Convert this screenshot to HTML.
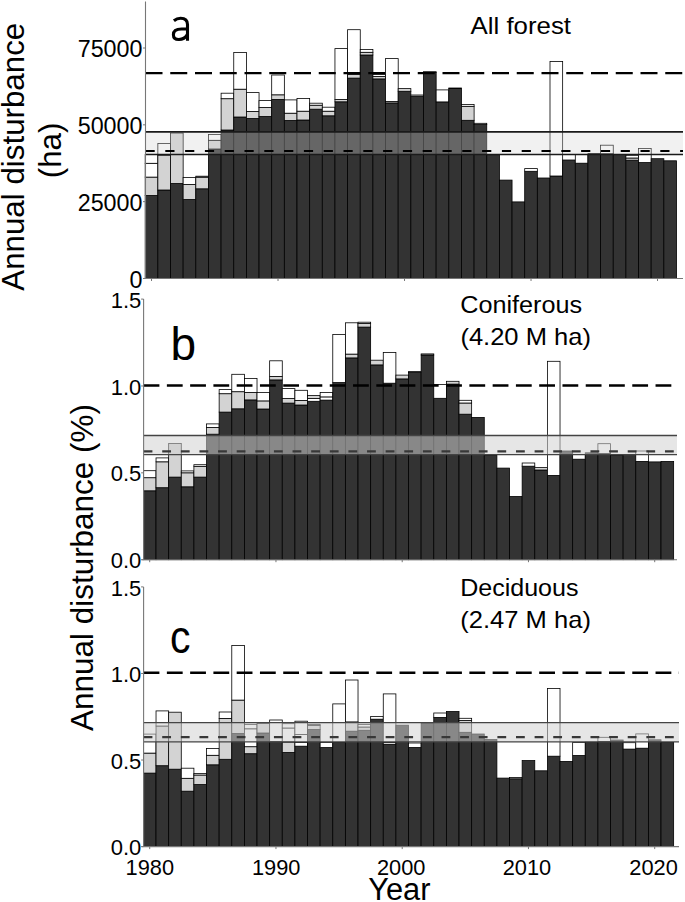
<!DOCTYPE html><html><head><meta charset="utf-8"><style>html,body{margin:0;padding:0;background:#fff;}svg{display:block;}text{font-family:"Liberation Sans",sans-serif;fill:#000;}</style></head><body>
<div id="w"><svg width="685" height="902" viewBox="0 0 685 902">
<rect x="0" y="0" width="685" height="902" fill="#fff"/>
<rect x="145.2" y="195.5" width="12.65" height="83" fill="#333333" stroke="#000" stroke-width="0.8"/>
<rect x="145.2" y="177.1" width="12.65" height="18.4" fill="#d3d3d3" stroke="#000" stroke-width="0.8"/>
<rect x="145.2" y="163.3" width="12.65" height="13.8" fill="#ffffff" stroke="#000" stroke-width="0.8"/>
<rect x="145.2" y="154.5" width="12.65" height="8.8" fill="#ffffff" stroke="#000" stroke-width="0.8"/>
<rect x="157.85" y="190" width="12.65" height="88.5" fill="#333333" stroke="#000" stroke-width="0.8"/>
<rect x="157.85" y="155" width="12.65" height="35" fill="#d3d3d3" stroke="#000" stroke-width="0.8"/>
<rect x="157.85" y="143.4" width="12.65" height="11.6" fill="#ffffff" stroke="#000" stroke-width="0.8"/>
<rect x="170.5" y="183.5" width="12.65" height="95" fill="#333333" stroke="#000" stroke-width="0.8"/>
<rect x="170.5" y="133" width="12.65" height="50.5" fill="#d3d3d3" stroke="#000" stroke-width="0.8"/>
<rect x="183.15" y="199.5" width="12.65" height="79" fill="#333333" stroke="#000" stroke-width="0.8"/>
<rect x="183.15" y="184.5" width="12.65" height="15" fill="#d3d3d3" stroke="#000" stroke-width="0.8"/>
<rect x="183.15" y="177.4" width="12.65" height="7.1" fill="#ffffff" stroke="#000" stroke-width="0.8"/>
<rect x="195.8" y="188.8" width="12.65" height="89.7" fill="#333333" stroke="#000" stroke-width="0.8"/>
<rect x="195.8" y="177.2" width="12.65" height="11.6" fill="#d3d3d3" stroke="#000" stroke-width="0.8"/>
<rect x="195.8" y="176.2" width="12.65" height="1" fill="#ffffff" stroke="#000" stroke-width="0.8"/>
<rect x="208.45" y="149" width="12.65" height="129.5" fill="#333333" stroke="#000" stroke-width="0.8"/>
<rect x="208.45" y="140.3" width="12.65" height="8.7" fill="#d3d3d3" stroke="#000" stroke-width="0.8"/>
<rect x="208.45" y="134.5" width="12.65" height="5.8" fill="#ffffff" stroke="#000" stroke-width="0.8"/>
<rect x="221.1" y="130" width="12.65" height="148.5" fill="#333333" stroke="#000" stroke-width="0.8"/>
<rect x="221.1" y="98.7" width="12.65" height="31.3" fill="#d3d3d3" stroke="#000" stroke-width="0.8"/>
<rect x="221.1" y="93.2" width="12.65" height="5.5" fill="#ffffff" stroke="#000" stroke-width="0.8"/>
<rect x="233.75" y="117" width="12.65" height="161.5" fill="#333333" stroke="#000" stroke-width="0.8"/>
<rect x="233.75" y="89.2" width="12.65" height="27.8" fill="#d3d3d3" stroke="#000" stroke-width="0.8"/>
<rect x="233.75" y="52.4" width="12.65" height="36.8" fill="#ffffff" stroke="#000" stroke-width="0.8"/>
<rect x="246.4" y="118.5" width="12.65" height="160" fill="#333333" stroke="#000" stroke-width="0.8"/>
<rect x="246.4" y="111.5" width="12.65" height="7" fill="#d3d3d3" stroke="#000" stroke-width="0.8"/>
<rect x="246.4" y="92.6" width="12.65" height="18.9" fill="#ffffff" stroke="#000" stroke-width="0.8"/>
<rect x="259.05" y="116.5" width="12.65" height="162" fill="#333333" stroke="#000" stroke-width="0.8"/>
<rect x="259.05" y="107.5" width="12.65" height="9" fill="#d3d3d3" stroke="#000" stroke-width="0.8"/>
<rect x="259.05" y="100.6" width="12.65" height="6.9" fill="#ffffff" stroke="#000" stroke-width="0.8"/>
<rect x="271.7" y="99.4" width="12.65" height="179.1" fill="#333333" stroke="#000" stroke-width="0.8"/>
<rect x="271.7" y="94.8" width="12.65" height="4.6" fill="#d3d3d3" stroke="#000" stroke-width="0.8"/>
<rect x="271.7" y="75" width="12.65" height="19.8" fill="#ffffff" stroke="#000" stroke-width="0.8"/>
<rect x="284.35" y="120.5" width="12.65" height="158" fill="#333333" stroke="#000" stroke-width="0.8"/>
<rect x="284.35" y="113.2" width="12.65" height="7.3" fill="#d3d3d3" stroke="#000" stroke-width="0.8"/>
<rect x="284.35" y="99.9" width="12.65" height="13.3" fill="#ffffff" stroke="#000" stroke-width="0.8"/>
<rect x="297" y="120" width="12.65" height="158.5" fill="#333333" stroke="#000" stroke-width="0.8"/>
<rect x="297" y="111.2" width="12.65" height="8.8" fill="#d3d3d3" stroke="#000" stroke-width="0.8"/>
<rect x="297" y="98.5" width="12.65" height="12.7" fill="#ffffff" stroke="#000" stroke-width="0.8"/>
<rect x="309.65" y="109.2" width="12.65" height="169.3" fill="#333333" stroke="#000" stroke-width="0.8"/>
<rect x="309.65" y="105.2" width="12.65" height="4" fill="#d3d3d3" stroke="#000" stroke-width="0.8"/>
<rect x="309.65" y="103.2" width="12.65" height="2" fill="#ffffff" stroke="#000" stroke-width="0.8"/>
<rect x="322.3" y="115.8" width="12.65" height="162.7" fill="#333333" stroke="#000" stroke-width="0.8"/>
<rect x="322.3" y="111.2" width="12.65" height="4.6" fill="#d3d3d3" stroke="#000" stroke-width="0.8"/>
<rect x="322.3" y="107.2" width="12.65" height="4" fill="#ffffff" stroke="#000" stroke-width="0.8"/>
<rect x="334.95" y="101.8" width="12.65" height="176.7" fill="#333333" stroke="#000" stroke-width="0.8"/>
<rect x="334.95" y="99.5" width="12.65" height="2.3" fill="#d3d3d3" stroke="#000" stroke-width="0.8"/>
<rect x="334.95" y="48.6" width="12.65" height="50.9" fill="#ffffff" stroke="#000" stroke-width="0.8"/>
<rect x="347.6" y="78.1" width="12.65" height="200.4" fill="#333333" stroke="#000" stroke-width="0.8"/>
<rect x="347.6" y="74.5" width="12.65" height="3.6" fill="#d3d3d3" stroke="#000" stroke-width="0.8"/>
<rect x="347.6" y="29.7" width="12.65" height="44.8" fill="#ffffff" stroke="#000" stroke-width="0.8"/>
<rect x="360.25" y="55" width="12.65" height="223.5" fill="#333333" stroke="#000" stroke-width="0.8"/>
<rect x="360.25" y="52.3" width="12.65" height="2.7" fill="#d3d3d3" stroke="#000" stroke-width="0.8"/>
<rect x="360.25" y="49.5" width="12.65" height="2.8" fill="#ffffff" stroke="#000" stroke-width="0.8"/>
<rect x="372.9" y="78.9" width="12.65" height="199.6" fill="#333333" stroke="#000" stroke-width="0.8"/>
<rect x="372.9" y="76.5" width="12.65" height="2.4" fill="#d3d3d3" stroke="#000" stroke-width="0.8"/>
<rect x="372.9" y="74.5" width="12.65" height="2" fill="#ffffff" stroke="#000" stroke-width="0.8"/>
<rect x="385.55" y="102.9" width="12.65" height="175.6" fill="#333333" stroke="#000" stroke-width="0.8"/>
<rect x="385.55" y="101.6" width="12.65" height="1.3" fill="#d3d3d3" stroke="#000" stroke-width="0.8"/>
<rect x="385.55" y="58.6" width="12.65" height="43" fill="#ffffff" stroke="#000" stroke-width="0.8"/>
<rect x="398.2" y="91.3" width="12.65" height="187.2" fill="#333333" stroke="#000" stroke-width="0.8"/>
<rect x="398.2" y="88.6" width="12.65" height="2.7" fill="#d3d3d3" stroke="#000" stroke-width="0.8"/>
<rect x="410.85" y="96.3" width="12.65" height="182.2" fill="#333333" stroke="#000" stroke-width="0.8"/>
<rect x="410.85" y="95" width="12.65" height="1.3" fill="#d3d3d3" stroke="#000" stroke-width="0.8"/>
<rect x="423.5" y="72.6" width="12.65" height="205.9" fill="#333333" stroke="#000" stroke-width="0.8"/>
<rect x="423.5" y="71.7" width="12.65" height="0.9" fill="#d3d3d3" stroke="#000" stroke-width="0.8"/>
<rect x="436.15" y="101.9" width="12.65" height="176.6" fill="#333333" stroke="#000" stroke-width="0.8"/>
<rect x="436.15" y="89.9" width="12.65" height="12" fill="#ffffff" stroke="#000" stroke-width="0.8"/>
<rect x="448.8" y="88.6" width="12.65" height="189.9" fill="#333333" stroke="#000" stroke-width="0.8"/>
<rect x="448.8" y="88" width="12.65" height="0.6" fill="#d3d3d3" stroke="#000" stroke-width="0.8"/>
<rect x="461.45" y="120.3" width="12.65" height="158.2" fill="#333333" stroke="#000" stroke-width="0.8"/>
<rect x="461.45" y="106.3" width="12.65" height="14" fill="#d3d3d3" stroke="#000" stroke-width="0.8"/>
<rect x="461.45" y="104.5" width="12.65" height="1.8" fill="#ffffff" stroke="#000" stroke-width="0.8"/>
<rect x="474.1" y="124.6" width="12.65" height="153.9" fill="#333333" stroke="#000" stroke-width="0.8"/>
<rect x="474.1" y="123.3" width="12.65" height="1.3" fill="#d3d3d3" stroke="#000" stroke-width="0.8"/>
<rect x="486.75" y="154.7" width="12.65" height="123.8" fill="#333333" stroke="#000" stroke-width="0.8"/>
<rect x="499.4" y="180.1" width="12.65" height="98.4" fill="#333333" stroke="#000" stroke-width="0.8"/>
<rect x="512.05" y="201.9" width="12.65" height="76.6" fill="#333333" stroke="#000" stroke-width="0.8"/>
<rect x="524.7" y="171.3" width="12.65" height="107.2" fill="#333333" stroke="#000" stroke-width="0.8"/>
<rect x="524.7" y="168.6" width="12.65" height="2.7" fill="#ffffff" stroke="#000" stroke-width="0.8"/>
<rect x="537.35" y="178" width="12.65" height="100.5" fill="#333333" stroke="#000" stroke-width="0.8"/>
<rect x="550" y="176" width="12.65" height="102.5" fill="#333333" stroke="#000" stroke-width="0.8"/>
<rect x="550" y="61.5" width="12.65" height="114.5" fill="#ffffff" stroke="#000" stroke-width="0.8"/>
<rect x="562.65" y="160" width="12.65" height="118.5" fill="#333333" stroke="#000" stroke-width="0.8"/>
<rect x="575.3" y="163.2" width="12.65" height="115.3" fill="#333333" stroke="#000" stroke-width="0.8"/>
<rect x="575.3" y="154.5" width="12.65" height="8.7" fill="#ffffff" stroke="#000" stroke-width="0.8"/>
<rect x="587.95" y="153.6" width="12.65" height="124.9" fill="#333333" stroke="#000" stroke-width="0.8"/>
<rect x="600.6" y="153.8" width="12.65" height="124.7" fill="#333333" stroke="#000" stroke-width="0.8"/>
<rect x="600.6" y="145.2" width="12.65" height="8.6" fill="#ffffff" stroke="#000" stroke-width="0.8"/>
<rect x="613.25" y="154.5" width="12.65" height="124" fill="#333333" stroke="#000" stroke-width="0.8"/>
<rect x="625.9" y="160.2" width="12.65" height="118.3" fill="#333333" stroke="#000" stroke-width="0.8"/>
<rect x="625.9" y="158" width="12.65" height="2.2" fill="#d3d3d3" stroke="#000" stroke-width="0.8"/>
<rect x="625.9" y="155.3" width="12.65" height="2.7" fill="#ffffff" stroke="#000" stroke-width="0.8"/>
<rect x="638.55" y="162.6" width="12.65" height="115.9" fill="#333333" stroke="#000" stroke-width="0.8"/>
<rect x="638.55" y="148.5" width="12.65" height="14.1" fill="#ffffff" stroke="#000" stroke-width="0.8"/>
<rect x="651.2" y="158.7" width="12.65" height="119.8" fill="#333333" stroke="#000" stroke-width="0.8"/>
<rect x="663.85" y="160.8" width="12.65" height="117.7" fill="#333333" stroke="#000" stroke-width="0.8"/>
<rect x="145.5" y="131.9" width="537.5" height="22.6" fill="rgba(211,211,211,0.32)"/>
<line x1="145.5" y1="131.9" x2="683" y2="131.9" stroke="#1a1a1a" stroke-width="1.7"/>
<line x1="145.5" y1="154.5" x2="683" y2="154.5" stroke="#1a1a1a" stroke-width="1.7"/>
<line x1="145.5" y1="151" x2="683" y2="151" stroke="#000" stroke-width="2.2" stroke-dasharray="9.2 10.6"/>
<line x1="145.5" y1="73.1" x2="683" y2="73.1" stroke="#000" stroke-width="2.4" stroke-dasharray="17 7.75"/>
<line x1="145.5" y1="1.5" x2="145.5" y2="278.5" stroke="#777" stroke-width="1.1"/>
<line x1="143.5" y1="278.5" x2="683" y2="278.5" stroke="#777" stroke-width="1.1"/>
<line x1="151.52" y1="278.5" x2="151.52" y2="281" stroke="#777" stroke-width="1"/>
<line x1="278.02" y1="278.5" x2="278.02" y2="281" stroke="#777" stroke-width="1"/>
<line x1="404.52" y1="278.5" x2="404.52" y2="281" stroke="#777" stroke-width="1"/>
<line x1="531.02" y1="278.5" x2="531.02" y2="281" stroke="#777" stroke-width="1"/>
<line x1="657.53" y1="278.5" x2="657.53" y2="281" stroke="#777" stroke-width="1"/>
<rect x="143.4" y="490.8" width="12.62" height="68.9" fill="#333333" stroke="#000" stroke-width="0.8"/>
<rect x="143.4" y="477.7" width="12.62" height="13.1" fill="#d3d3d3" stroke="#000" stroke-width="0.8"/>
<rect x="143.4" y="470.7" width="12.62" height="7" fill="#ffffff" stroke="#000" stroke-width="0.8"/>
<rect x="156.03" y="487.7" width="12.62" height="72" fill="#333333" stroke="#000" stroke-width="0.8"/>
<rect x="156.03" y="461.8" width="12.62" height="25.9" fill="#d3d3d3" stroke="#000" stroke-width="0.8"/>
<rect x="156.03" y="457.9" width="12.62" height="3.9" fill="#ffffff" stroke="#000" stroke-width="0.8"/>
<rect x="168.65" y="477.1" width="12.62" height="82.6" fill="#333333" stroke="#000" stroke-width="0.8"/>
<rect x="168.65" y="443.4" width="12.62" height="33.7" fill="#d3d3d3" stroke="#000" stroke-width="0.8"/>
<rect x="181.28" y="486.8" width="12.62" height="72.9" fill="#333333" stroke="#000" stroke-width="0.8"/>
<rect x="181.28" y="472.8" width="12.62" height="14" fill="#d3d3d3" stroke="#000" stroke-width="0.8"/>
<rect x="181.28" y="470.9" width="12.62" height="1.9" fill="#ffffff" stroke="#000" stroke-width="0.8"/>
<rect x="193.9" y="477.1" width="12.62" height="82.6" fill="#333333" stroke="#000" stroke-width="0.8"/>
<rect x="193.9" y="466.3" width="12.62" height="10.8" fill="#d3d3d3" stroke="#000" stroke-width="0.8"/>
<rect x="193.9" y="464.7" width="12.62" height="1.6" fill="#ffffff" stroke="#000" stroke-width="0.8"/>
<rect x="206.53" y="434.2" width="12.62" height="125.5" fill="#333333" stroke="#000" stroke-width="0.8"/>
<rect x="206.53" y="427.4" width="12.62" height="6.8" fill="#d3d3d3" stroke="#000" stroke-width="0.8"/>
<rect x="206.53" y="423.9" width="12.62" height="3.5" fill="#ffffff" stroke="#000" stroke-width="0.8"/>
<rect x="219.15" y="412.1" width="12.62" height="147.6" fill="#333333" stroke="#000" stroke-width="0.8"/>
<rect x="219.15" y="393.7" width="12.62" height="18.4" fill="#d3d3d3" stroke="#000" stroke-width="0.8"/>
<rect x="219.15" y="389.6" width="12.62" height="4.1" fill="#ffffff" stroke="#000" stroke-width="0.8"/>
<rect x="231.78" y="408.8" width="12.62" height="150.9" fill="#333333" stroke="#000" stroke-width="0.8"/>
<rect x="231.78" y="391.7" width="12.62" height="17.1" fill="#d3d3d3" stroke="#000" stroke-width="0.8"/>
<rect x="231.78" y="374.3" width="12.62" height="17.4" fill="#ffffff" stroke="#000" stroke-width="0.8"/>
<rect x="244.4" y="399.9" width="12.62" height="159.8" fill="#333333" stroke="#000" stroke-width="0.8"/>
<rect x="244.4" y="392.5" width="12.62" height="7.4" fill="#d3d3d3" stroke="#000" stroke-width="0.8"/>
<rect x="244.4" y="378.4" width="12.62" height="14.1" fill="#ffffff" stroke="#000" stroke-width="0.8"/>
<rect x="257.02" y="409" width="12.62" height="150.7" fill="#333333" stroke="#000" stroke-width="0.8"/>
<rect x="257.02" y="400.9" width="12.62" height="8.1" fill="#d3d3d3" stroke="#000" stroke-width="0.8"/>
<rect x="257.02" y="392.5" width="12.62" height="8.4" fill="#ffffff" stroke="#000" stroke-width="0.8"/>
<rect x="269.65" y="379.9" width="12.62" height="179.8" fill="#333333" stroke="#000" stroke-width="0.8"/>
<rect x="269.65" y="376.4" width="12.62" height="3.5" fill="#d3d3d3" stroke="#000" stroke-width="0.8"/>
<rect x="269.65" y="360.8" width="12.62" height="15.6" fill="#ffffff" stroke="#000" stroke-width="0.8"/>
<rect x="282.27" y="403.1" width="12.62" height="156.6" fill="#333333" stroke="#000" stroke-width="0.8"/>
<rect x="282.27" y="398.6" width="12.62" height="4.5" fill="#d3d3d3" stroke="#000" stroke-width="0.8"/>
<rect x="282.27" y="388.6" width="12.62" height="10" fill="#ffffff" stroke="#000" stroke-width="0.8"/>
<rect x="294.9" y="405" width="12.62" height="154.7" fill="#333333" stroke="#000" stroke-width="0.8"/>
<rect x="294.9" y="400.4" width="12.62" height="4.6" fill="#d3d3d3" stroke="#000" stroke-width="0.8"/>
<rect x="294.9" y="390.3" width="12.62" height="10.1" fill="#ffffff" stroke="#000" stroke-width="0.8"/>
<rect x="307.52" y="401.3" width="12.62" height="158.4" fill="#333333" stroke="#000" stroke-width="0.8"/>
<rect x="307.52" y="398.5" width="12.62" height="2.8" fill="#ffffff" stroke="#000" stroke-width="0.8"/>
<rect x="307.52" y="395.5" width="12.62" height="3" fill="#d3d3d3" stroke="#000" stroke-width="0.8"/>
<rect x="320.15" y="400.1" width="12.62" height="159.6" fill="#333333" stroke="#000" stroke-width="0.8"/>
<rect x="320.15" y="396.9" width="12.62" height="3.2" fill="#ffffff" stroke="#000" stroke-width="0.8"/>
<rect x="320.15" y="392.4" width="12.62" height="4.5" fill="#ffffff" stroke="#000" stroke-width="0.8"/>
<rect x="332.77" y="382.6" width="12.62" height="177.1" fill="#333333" stroke="#000" stroke-width="0.8"/>
<rect x="332.77" y="334.4" width="12.62" height="48.2" fill="#ffffff" stroke="#000" stroke-width="0.8"/>
<rect x="345.4" y="357.9" width="12.62" height="201.8" fill="#333333" stroke="#000" stroke-width="0.8"/>
<rect x="345.4" y="354.1" width="12.62" height="3.8" fill="#d3d3d3" stroke="#000" stroke-width="0.8"/>
<rect x="345.4" y="322.8" width="12.62" height="31.3" fill="#ffffff" stroke="#000" stroke-width="0.8"/>
<rect x="358.02" y="327.1" width="12.62" height="232.6" fill="#333333" stroke="#000" stroke-width="0.8"/>
<rect x="358.02" y="323.5" width="12.62" height="3.6" fill="#d3d3d3" stroke="#000" stroke-width="0.8"/>
<rect x="358.02" y="322.2" width="12.62" height="1.3" fill="#ffffff" stroke="#000" stroke-width="0.8"/>
<rect x="370.65" y="364.9" width="12.62" height="194.8" fill="#333333" stroke="#000" stroke-width="0.8"/>
<rect x="370.65" y="360.2" width="12.62" height="4.7" fill="#d3d3d3" stroke="#000" stroke-width="0.8"/>
<rect x="383.27" y="383.2" width="12.62" height="176.5" fill="#333333" stroke="#000" stroke-width="0.8"/>
<rect x="383.27" y="352.4" width="12.62" height="30.8" fill="#ffffff" stroke="#000" stroke-width="0.8"/>
<rect x="395.9" y="378.9" width="12.62" height="180.8" fill="#333333" stroke="#000" stroke-width="0.8"/>
<rect x="395.9" y="375.1" width="12.62" height="3.8" fill="#d3d3d3" stroke="#000" stroke-width="0.8"/>
<rect x="408.52" y="372.6" width="12.62" height="187.1" fill="#333333" stroke="#000" stroke-width="0.8"/>
<rect x="408.52" y="371.6" width="12.62" height="1" fill="#d3d3d3" stroke="#000" stroke-width="0.8"/>
<rect x="421.15" y="355" width="12.62" height="204.7" fill="#333333" stroke="#000" stroke-width="0.8"/>
<rect x="421.15" y="353.9" width="12.62" height="1.1" fill="#d3d3d3" stroke="#000" stroke-width="0.8"/>
<rect x="433.77" y="398.3" width="12.62" height="161.4" fill="#333333" stroke="#000" stroke-width="0.8"/>
<rect x="433.77" y="384.4" width="12.62" height="13.9" fill="#ffffff" stroke="#000" stroke-width="0.8"/>
<rect x="446.4" y="384.1" width="12.62" height="175.6" fill="#333333" stroke="#000" stroke-width="0.8"/>
<rect x="446.4" y="381.3" width="12.62" height="2.8" fill="#d3d3d3" stroke="#000" stroke-width="0.8"/>
<rect x="459.02" y="414.2" width="12.62" height="145.5" fill="#333333" stroke="#000" stroke-width="0.8"/>
<rect x="459.02" y="403" width="12.62" height="11.2" fill="#d3d3d3" stroke="#000" stroke-width="0.8"/>
<rect x="459.02" y="400.3" width="12.62" height="2.7" fill="#ffffff" stroke="#000" stroke-width="0.8"/>
<rect x="471.65" y="417.4" width="12.62" height="142.3" fill="#333333" stroke="#000" stroke-width="0.8"/>
<rect x="484.27" y="455" width="12.62" height="104.7" fill="#333333" stroke="#000" stroke-width="0.8"/>
<rect x="496.9" y="468.1" width="12.62" height="91.6" fill="#333333" stroke="#000" stroke-width="0.8"/>
<rect x="509.52" y="496.5" width="12.62" height="63.2" fill="#333333" stroke="#000" stroke-width="0.8"/>
<rect x="522.15" y="466.2" width="12.62" height="93.5" fill="#333333" stroke="#000" stroke-width="0.8"/>
<rect x="522.15" y="463" width="12.62" height="3.2" fill="#ffffff" stroke="#000" stroke-width="0.8"/>
<rect x="534.77" y="470" width="12.62" height="89.7" fill="#333333" stroke="#000" stroke-width="0.8"/>
<rect x="534.77" y="467.6" width="12.62" height="2.4" fill="#d3d3d3" stroke="#000" stroke-width="0.8"/>
<rect x="547.4" y="475.4" width="12.62" height="84.3" fill="#333333" stroke="#000" stroke-width="0.8"/>
<rect x="547.4" y="361.3" width="12.62" height="114.1" fill="#ffffff" stroke="#000" stroke-width="0.8"/>
<rect x="560.02" y="451" width="12.62" height="108.7" fill="#333333" stroke="#000" stroke-width="0.8"/>
<rect x="572.65" y="459.2" width="12.62" height="100.5" fill="#333333" stroke="#000" stroke-width="0.8"/>
<rect x="572.65" y="454.6" width="12.62" height="4.6" fill="#ffffff" stroke="#000" stroke-width="0.8"/>
<rect x="585.27" y="452.8" width="12.62" height="106.9" fill="#333333" stroke="#000" stroke-width="0.8"/>
<rect x="597.9" y="453.4" width="12.62" height="106.3" fill="#333333" stroke="#000" stroke-width="0.8"/>
<rect x="597.9" y="443.7" width="12.62" height="9.7" fill="#ffffff" stroke="#000" stroke-width="0.8"/>
<rect x="610.52" y="455.5" width="12.62" height="104.2" fill="#333333" stroke="#000" stroke-width="0.8"/>
<rect x="623.15" y="454.6" width="12.62" height="105.1" fill="#333333" stroke="#000" stroke-width="0.8"/>
<rect x="635.77" y="461.4" width="12.62" height="98.3" fill="#333333" stroke="#000" stroke-width="0.8"/>
<rect x="635.77" y="451" width="12.62" height="10.4" fill="#ffffff" stroke="#000" stroke-width="0.8"/>
<rect x="648.4" y="461.9" width="12.62" height="97.8" fill="#333333" stroke="#000" stroke-width="0.8"/>
<rect x="661.02" y="461.4" width="12.62" height="98.3" fill="#333333" stroke="#000" stroke-width="0.8"/>
<rect x="143.6" y="435.5" width="533.4" height="19.1" fill="rgba(208,208,208,0.54)"/>
<line x1="143.6" y1="435.5" x2="677" y2="435.5" stroke="#444" stroke-width="1.3"/>
<line x1="143.6" y1="454.6" x2="677" y2="454.6" stroke="#444" stroke-width="1.3"/>
<line x1="143.6" y1="451.3" x2="677" y2="451.3" stroke="#383838" stroke-width="2.2" stroke-dasharray="8.8 9.82"/>
<line x1="143.6" y1="385.5" x2="677" y2="385.5" stroke="#000" stroke-width="2.4" stroke-dasharray="15.8 7.47"/>
<line x1="143.6" y1="299.1" x2="143.6" y2="559.7" stroke="#777" stroke-width="1.1"/>
<line x1="141.6" y1="559.7" x2="677" y2="559.7" stroke="#777" stroke-width="1.1"/>
<line x1="149.71" y1="559.7" x2="149.71" y2="562.2" stroke="#777" stroke-width="1"/>
<line x1="275.96" y1="559.7" x2="275.96" y2="562.2" stroke="#777" stroke-width="1"/>
<line x1="402.21" y1="559.7" x2="402.21" y2="562.2" stroke="#777" stroke-width="1"/>
<line x1="528.46" y1="559.7" x2="528.46" y2="562.2" stroke="#777" stroke-width="1"/>
<line x1="654.71" y1="559.7" x2="654.71" y2="562.2" stroke="#777" stroke-width="1"/>
<rect x="143.4" y="773.1" width="12.62" height="73.5" fill="#333333" stroke="#000" stroke-width="0.8"/>
<rect x="143.4" y="753.1" width="12.62" height="20" fill="#d3d3d3" stroke="#000" stroke-width="0.8"/>
<rect x="143.4" y="734.1" width="12.62" height="19" fill="#ffffff" stroke="#000" stroke-width="0.8"/>
<rect x="156.03" y="765.7" width="12.62" height="80.9" fill="#333333" stroke="#000" stroke-width="0.8"/>
<rect x="156.03" y="726" width="12.62" height="39.7" fill="#d3d3d3" stroke="#000" stroke-width="0.8"/>
<rect x="156.03" y="710.9" width="12.62" height="15.1" fill="#ffffff" stroke="#000" stroke-width="0.8"/>
<rect x="168.65" y="769.2" width="12.62" height="77.4" fill="#333333" stroke="#000" stroke-width="0.8"/>
<rect x="168.65" y="712.2" width="12.62" height="57" fill="#d3d3d3" stroke="#000" stroke-width="0.8"/>
<rect x="181.28" y="791.2" width="12.62" height="55.4" fill="#333333" stroke="#000" stroke-width="0.8"/>
<rect x="181.28" y="778.3" width="12.62" height="12.9" fill="#d3d3d3" stroke="#000" stroke-width="0.8"/>
<rect x="181.28" y="768.2" width="12.62" height="10.1" fill="#ffffff" stroke="#000" stroke-width="0.8"/>
<rect x="193.9" y="784.6" width="12.62" height="62" fill="#333333" stroke="#000" stroke-width="0.8"/>
<rect x="193.9" y="775" width="12.62" height="9.6" fill="#d3d3d3" stroke="#000" stroke-width="0.8"/>
<rect x="193.9" y="773.4" width="12.62" height="1.6" fill="#ffffff" stroke="#000" stroke-width="0.8"/>
<rect x="206.53" y="764.8" width="12.62" height="81.8" fill="#333333" stroke="#000" stroke-width="0.8"/>
<rect x="206.53" y="755.3" width="12.62" height="9.5" fill="#d3d3d3" stroke="#000" stroke-width="0.8"/>
<rect x="206.53" y="748.5" width="12.62" height="6.8" fill="#ffffff" stroke="#000" stroke-width="0.8"/>
<rect x="219.15" y="759.3" width="12.62" height="87.3" fill="#333333" stroke="#000" stroke-width="0.8"/>
<rect x="219.15" y="718.4" width="12.62" height="40.9" fill="#d3d3d3" stroke="#000" stroke-width="0.8"/>
<rect x="219.15" y="712" width="12.62" height="6.4" fill="#ffffff" stroke="#000" stroke-width="0.8"/>
<rect x="231.78" y="733.5" width="12.62" height="113.1" fill="#333333" stroke="#000" stroke-width="0.8"/>
<rect x="231.78" y="700.1" width="12.62" height="33.4" fill="#d3d3d3" stroke="#000" stroke-width="0.8"/>
<rect x="231.78" y="645.5" width="12.62" height="54.6" fill="#ffffff" stroke="#000" stroke-width="0.8"/>
<rect x="244.4" y="753.7" width="12.62" height="92.9" fill="#333333" stroke="#000" stroke-width="0.8"/>
<rect x="244.4" y="746.7" width="12.62" height="7" fill="#d3d3d3" stroke="#000" stroke-width="0.8"/>
<rect x="244.4" y="728.8" width="12.62" height="17.9" fill="#ffffff" stroke="#000" stroke-width="0.8"/>
<rect x="244.4" y="724.6" width="12.62" height="4.2" fill="#ffffff" stroke="#000" stroke-width="0.8"/>
<rect x="257.02" y="733" width="12.62" height="113.6" fill="#333333" stroke="#000" stroke-width="0.8"/>
<rect x="257.02" y="723.4" width="12.62" height="9.6" fill="#d3d3d3" stroke="#000" stroke-width="0.8"/>
<rect x="269.65" y="741.5" width="12.62" height="105.1" fill="#333333" stroke="#000" stroke-width="0.8"/>
<rect x="269.65" y="720" width="12.62" height="21.5" fill="#ffffff" stroke="#000" stroke-width="0.8"/>
<rect x="282.27" y="752.5" width="12.62" height="94.1" fill="#333333" stroke="#000" stroke-width="0.8"/>
<rect x="282.27" y="742" width="12.62" height="10.5" fill="#d3d3d3" stroke="#000" stroke-width="0.8"/>
<rect x="282.27" y="728" width="12.62" height="14" fill="#ffffff" stroke="#000" stroke-width="0.8"/>
<rect x="282.27" y="723.7" width="12.62" height="4.3" fill="#ffffff" stroke="#000" stroke-width="0.8"/>
<rect x="294.9" y="746.2" width="12.62" height="100.4" fill="#333333" stroke="#000" stroke-width="0.8"/>
<rect x="294.9" y="742.5" width="12.62" height="3.7" fill="#ffffff" stroke="#000" stroke-width="0.8"/>
<rect x="294.9" y="734.5" width="12.62" height="8" fill="#ffffff" stroke="#000" stroke-width="0.8"/>
<rect x="294.9" y="721.2" width="12.62" height="13.3" fill="#ffffff" stroke="#000" stroke-width="0.8"/>
<rect x="307.52" y="729.5" width="12.62" height="117.1" fill="#333333" stroke="#000" stroke-width="0.8"/>
<rect x="307.52" y="725.3" width="12.62" height="4.2" fill="#d3d3d3" stroke="#000" stroke-width="0.8"/>
<rect x="307.52" y="724.3" width="12.62" height="1" fill="#ffffff" stroke="#000" stroke-width="0.8"/>
<rect x="320.15" y="747.6" width="12.62" height="99" fill="#333333" stroke="#000" stroke-width="0.8"/>
<rect x="320.15" y="742.5" width="12.62" height="5.1" fill="#ffffff" stroke="#000" stroke-width="0.8"/>
<rect x="332.77" y="742.5" width="12.62" height="104.1" fill="#333333" stroke="#000" stroke-width="0.8"/>
<rect x="332.77" y="703.9" width="12.62" height="38.6" fill="#ffffff" stroke="#000" stroke-width="0.8"/>
<rect x="345.4" y="731.2" width="12.62" height="115.4" fill="#333333" stroke="#000" stroke-width="0.8"/>
<rect x="345.4" y="721.9" width="12.62" height="9.3" fill="#d3d3d3" stroke="#000" stroke-width="0.8"/>
<rect x="345.4" y="680" width="12.62" height="41.9" fill="#ffffff" stroke="#000" stroke-width="0.8"/>
<rect x="358.02" y="730.3" width="12.62" height="116.3" fill="#333333" stroke="#000" stroke-width="0.8"/>
<rect x="358.02" y="727" width="12.62" height="3.3" fill="#d3d3d3" stroke="#000" stroke-width="0.8"/>
<rect x="358.02" y="724.6" width="12.62" height="2.4" fill="#ffffff" stroke="#000" stroke-width="0.8"/>
<rect x="370.65" y="719.2" width="12.62" height="127.4" fill="#333333" stroke="#000" stroke-width="0.8"/>
<rect x="370.65" y="716.6" width="12.62" height="2.6" fill="#ffffff" stroke="#000" stroke-width="0.8"/>
<rect x="383.27" y="744.5" width="12.62" height="102.1" fill="#333333" stroke="#000" stroke-width="0.8"/>
<rect x="383.27" y="742.5" width="12.62" height="2" fill="#d3d3d3" stroke="#000" stroke-width="0.8"/>
<rect x="383.27" y="693.9" width="12.62" height="48.6" fill="#ffffff" stroke="#000" stroke-width="0.8"/>
<rect x="395.9" y="725.2" width="12.62" height="121.4" fill="#333333" stroke="#000" stroke-width="0.8"/>
<rect x="408.52" y="747.5" width="12.62" height="99.1" fill="#333333" stroke="#000" stroke-width="0.8"/>
<rect x="408.52" y="743" width="12.62" height="4.5" fill="#ffffff" stroke="#000" stroke-width="0.8"/>
<rect x="421.15" y="723.4" width="12.62" height="123.2" fill="#333333" stroke="#000" stroke-width="0.8"/>
<rect x="433.77" y="717.4" width="12.62" height="129.2" fill="#333333" stroke="#000" stroke-width="0.8"/>
<rect x="433.77" y="713" width="12.62" height="4.4" fill="#ffffff" stroke="#000" stroke-width="0.8"/>
<rect x="446.4" y="711.5" width="12.62" height="135.1" fill="#333333" stroke="#000" stroke-width="0.8"/>
<rect x="459.02" y="732.3" width="12.62" height="114.3" fill="#333333" stroke="#000" stroke-width="0.8"/>
<rect x="459.02" y="720.5" width="12.62" height="11.8" fill="#d3d3d3" stroke="#000" stroke-width="0.8"/>
<rect x="459.02" y="718.3" width="12.62" height="2.2" fill="#ffffff" stroke="#000" stroke-width="0.8"/>
<rect x="471.65" y="734" width="12.62" height="112.6" fill="#333333" stroke="#000" stroke-width="0.8"/>
<rect x="484.27" y="739.4" width="12.62" height="107.2" fill="#333333" stroke="#000" stroke-width="0.8"/>
<rect x="496.9" y="778.1" width="12.62" height="68.5" fill="#333333" stroke="#000" stroke-width="0.8"/>
<rect x="509.52" y="778.8" width="12.62" height="67.8" fill="#333333" stroke="#000" stroke-width="0.8"/>
<rect x="509.52" y="777.4" width="12.62" height="1.4" fill="#d3d3d3" stroke="#000" stroke-width="0.8"/>
<rect x="522.15" y="760.6" width="12.62" height="86" fill="#333333" stroke="#000" stroke-width="0.8"/>
<rect x="534.77" y="770.8" width="12.62" height="75.8" fill="#333333" stroke="#000" stroke-width="0.8"/>
<rect x="547.4" y="756.2" width="12.62" height="90.4" fill="#333333" stroke="#000" stroke-width="0.8"/>
<rect x="547.4" y="688.5" width="12.62" height="67.7" fill="#ffffff" stroke="#000" stroke-width="0.8"/>
<rect x="560.02" y="761.4" width="12.62" height="85.2" fill="#333333" stroke="#000" stroke-width="0.8"/>
<rect x="572.65" y="755.5" width="12.62" height="91.1" fill="#333333" stroke="#000" stroke-width="0.8"/>
<rect x="572.65" y="742.5" width="12.62" height="13" fill="#ffffff" stroke="#000" stroke-width="0.8"/>
<rect x="585.27" y="742.2" width="12.62" height="104.4" fill="#333333" stroke="#000" stroke-width="0.8"/>
<rect x="597.9" y="741.5" width="12.62" height="105.1" fill="#333333" stroke="#000" stroke-width="0.8"/>
<rect x="597.9" y="737.3" width="12.62" height="4.2" fill="#ffffff" stroke="#000" stroke-width="0.8"/>
<rect x="610.52" y="740" width="12.62" height="106.6" fill="#333333" stroke="#000" stroke-width="0.8"/>
<rect x="623.15" y="749.1" width="12.62" height="97.5" fill="#333333" stroke="#000" stroke-width="0.8"/>
<rect x="623.15" y="742.7" width="12.62" height="6.4" fill="#ffffff" stroke="#000" stroke-width="0.8"/>
<rect x="635.77" y="748.2" width="12.62" height="98.4" fill="#333333" stroke="#000" stroke-width="0.8"/>
<rect x="635.77" y="733.9" width="12.62" height="14.3" fill="#ffffff" stroke="#000" stroke-width="0.8"/>
<rect x="648.4" y="739.8" width="12.62" height="106.8" fill="#333333" stroke="#000" stroke-width="0.8"/>
<rect x="661.02" y="742.5" width="12.62" height="104.1" fill="#333333" stroke="#000" stroke-width="0.8"/>
<rect x="143.6" y="722.7" width="535.4" height="19.1" fill="rgba(208,208,208,0.54)"/>
<line x1="143.6" y1="722.7" x2="679" y2="722.7" stroke="#444" stroke-width="1.3"/>
<line x1="143.6" y1="741.8" x2="679" y2="741.8" stroke="#444" stroke-width="1.3"/>
<line x1="143.6" y1="737.2" x2="679" y2="737.2" stroke="#383838" stroke-width="2.2" stroke-dasharray="8.8 9.82"/>
<line x1="143.6" y1="672.8" x2="679" y2="672.8" stroke="#000" stroke-width="2.4" stroke-dasharray="15.8 7.47"/>
<line x1="143.6" y1="586.9" x2="143.6" y2="846.6" stroke="#777" stroke-width="1.1"/>
<line x1="141.6" y1="846.6" x2="679" y2="846.6" stroke="#777" stroke-width="1.1"/>
<line x1="149.71" y1="846.6" x2="149.71" y2="849.1" stroke="#777" stroke-width="1"/>
<line x1="275.96" y1="846.6" x2="275.96" y2="849.1" stroke="#777" stroke-width="1"/>
<line x1="402.21" y1="846.6" x2="402.21" y2="849.1" stroke="#777" stroke-width="1"/>
<line x1="528.46" y1="846.6" x2="528.46" y2="849.1" stroke="#777" stroke-width="1"/>
<line x1="654.71" y1="846.6" x2="654.71" y2="849.1" stroke="#777" stroke-width="1"/>
<line x1="143" y1="278.5" x2="145.5" y2="278.5" stroke="#777" stroke-width="1"/>
<text x="142.5" y="287.7" font-size="23.3" text-anchor="end">0</text>
<line x1="143" y1="201.67" x2="145.5" y2="201.67" stroke="#777" stroke-width="1"/>
<text x="142.5" y="210.87" font-size="23.3" text-anchor="end">25000</text>
<line x1="143" y1="124.83" x2="145.5" y2="124.83" stroke="#777" stroke-width="1"/>
<text x="142.5" y="134.03" font-size="23.3" text-anchor="end">50000</text>
<line x1="143" y1="48" x2="145.5" y2="48" stroke="#777" stroke-width="1"/>
<text x="142.5" y="57.2" font-size="23.3" text-anchor="end">75000</text>
<line x1="141.1" y1="559.7" x2="143.6" y2="559.7" stroke="#777" stroke-width="1"/>
<text x="141.3" y="568.3" font-size="22" text-anchor="end">0.0</text>
<line x1="141.1" y1="472.83" x2="143.6" y2="472.83" stroke="#777" stroke-width="1"/>
<text x="141.3" y="481.43" font-size="22" text-anchor="end">0.5</text>
<line x1="141.1" y1="385.97" x2="143.6" y2="385.97" stroke="#777" stroke-width="1"/>
<text x="141.3" y="394.57" font-size="22" text-anchor="end">1.0</text>
<line x1="141.1" y1="299.1" x2="143.6" y2="299.1" stroke="#777" stroke-width="1"/>
<text x="141.3" y="307.7" font-size="22" text-anchor="end">1.5</text>
<line x1="141.1" y1="846.6" x2="143.6" y2="846.6" stroke="#777" stroke-width="1"/>
<text x="141.3" y="855.2" font-size="22" text-anchor="end">0.0</text>
<line x1="141.1" y1="760.03" x2="143.6" y2="760.03" stroke="#777" stroke-width="1"/>
<text x="141.3" y="768.63" font-size="22" text-anchor="end">0.5</text>
<line x1="141.1" y1="673.47" x2="143.6" y2="673.47" stroke="#777" stroke-width="1"/>
<text x="141.3" y="682.07" font-size="22" text-anchor="end">1.0</text>
<line x1="141.1" y1="586.9" x2="143.6" y2="586.9" stroke="#777" stroke-width="1"/>
<text x="141.3" y="595.5" font-size="22" text-anchor="end">1.5</text>
<text x="149.85" y="874.9" font-size="21.8" text-anchor="middle">1980</text>
<text x="276.2" y="874.9" font-size="21.8" text-anchor="middle">1990</text>
<text x="401.2" y="874.9" font-size="21.8" text-anchor="middle">2000</text>
<text x="526.95" y="874.9" font-size="21.8" text-anchor="middle">2010</text>
<text x="653.6" y="874.9" font-size="21.8" text-anchor="middle">2020</text>
<text x="399.3" y="899.6" font-size="30.8" text-anchor="middle">Year</text>
<text transform="translate(24.2,156.75) rotate(-90)" font-size="31.3" text-anchor="middle">Annual disturbance</text>
<text transform="translate(61.3,150.4) rotate(-90)" font-size="31.3" text-anchor="middle">(ha)</text>
<text transform="translate(92.8,567.5) rotate(-90)" font-size="31.45" text-anchor="middle">Annual disturbance (%)</text>
<path d="M173.9 20.7 C175.9 19.1 178.1 18.3 180.6 18.3 C185.1 18.3 187.5 20.6 187.5 24.6 L187.5 40.7" fill="none" stroke="#000" stroke-width="3.1"/>
<path d="M187.5 29.0 L181.6 29.0 C176.1 29.0 173.4 31.3 173.4 34.7 C173.4 37.8 175.7 39.5 178.9 39.5 C182.6 39.5 185.6 37.6 187.5 34.4" fill="none" stroke="#000" stroke-width="3.1"/>
<text x="170.5" y="359.6" font-size="46">b</text>
<text transform="translate(169.9,652.5) scale(0.89,1)" font-size="46">c</text>
<text x="470.6" y="33.7" font-size="24" textLength="100.4" lengthAdjust="spacingAndGlyphs">All forest</text>
<text x="460.2" y="312.6" font-size="23.3" textLength="121.9" lengthAdjust="spacingAndGlyphs">Coniferous</text>
<text x="460.4" y="345.3" font-size="23.6" textLength="130.5" lengthAdjust="spacingAndGlyphs">(4.20 M ha)</text>
<text x="460.2" y="596.3" font-size="23" textLength="118.3" lengthAdjust="spacingAndGlyphs">Deciduous</text>
<text x="460.3" y="628.4" font-size="23.6" textLength="130.6" lengthAdjust="spacingAndGlyphs">(2.47 M ha)</text>
</svg></div></body></html>
